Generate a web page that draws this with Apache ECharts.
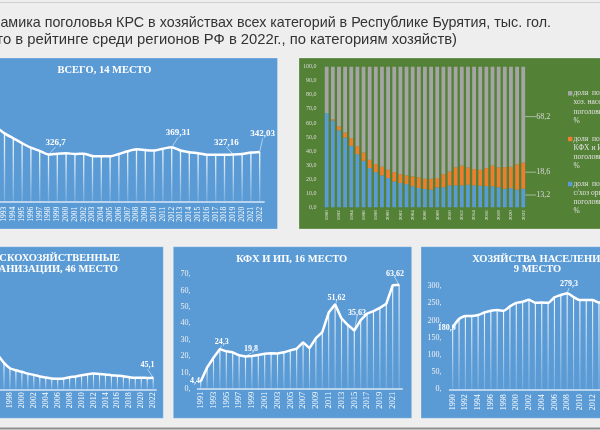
<!DOCTYPE html>
<html><head><meta charset="utf-8">
<script src="https://cdn.jsdelivr.net/npm/echarts@6/dist/echarts.min.js"></script>
<style>html,body{margin:0;padding:0;background:#eeeeee}#c{width:600px;height:430px}</style>
</head><body><div id="c"></div>
<script>
// ---------- data ----------
const yearsAll = ['1990','1991','1992','1993','1994','1995','1996','1997','1998','1999','2000','2001','2002','2003','2004','2005','2006','2007','2008','2009','2010','2011','2012','2013','2014','2015','2016','2017','2018','2019','2020','2021','2022'];
const yearsKfh = ['1991','1992','1993','1994','1995','1996','1997','1998','1999','2000','2001','2002','2003','2004','2005','2006','2007','2008','2009','2010','2011','2012','2013','2014','2015','2016','2017','2018','2019','2020','2021','2022'];

// all categories, thous. head
const totalHeads = [560,530,490,451,422,393,367,348,326.7,332,334,330,332,318,316,316,330,346,357,353,350,361,369.31,350,340,334,326,326,326,327.16,330,338,342.03];
// agricultural organisations
const agriOrgHeads = [410,370,300,235,190,152,132,103,82,74,68,61,56,50,46,42,41,42,47,50,55,59,61,60,58,55,53,51,47,45,45,44,45.1];
// peasant farms and individual entrepreneurs (from 1991)
const kfhHeads = [4.4,13,19,24.3,22.9,22.3,20.5,19.8,20,20.7,21.4,21.8,21.6,22.3,23.5,24.5,28.4,24.9,31,34.6,46.6,51.62,43,39,35.63,42,46,47.5,49.5,52,63.3,63.62];
// households
const householdHeads = [180,204,213,213,216,223,228,230,228,241,251,254,260,251,252,251,267,274,279.3,268,259,259,259,252,253,256,243,237,236,233,237,231,233.3];

// shares in total head, %
const shareAgri  = [67,61.7,54.8,49.6,43.7,37.8,33.1,27.9,25,22.7,20.8,18.4,17.3,16.5,14.9,13.7,13,12.5,14.2,14.2,15.6,15.6,15.6,16.1,15.6,15.4,15.1,14.9,14.2,13.2,13.7,12.5,13.2];
const shareKfh   = [0,0.9,2.9,3.6,5.5,5.7,5.9,5.9,5.7,6.1,5.9,6.6,6.3,6.2,7.1,7.6,7.3,7.8,6.6,9.4,9.9,12.8,14,12.3,11.6,11.3,12.8,14.7,14.2,15.4,15.1,18.2,18.6];
const shareHouse = [33,37.4,42.3,46.8,50.8,56.5,61,66.2,69.3,71.2,73.3,75,76.4,77.3,78,78.7,79.7,79.7,79.2,76.4,74.5,71.6,70.4,71.6,72.8,73.3,72.1,70.4,71.6,71.4,71.2,69.3,68.2];

const legendNames = ['доля  поголовья в\nхоз. населения в\nпоголовье,\n%', 'доля  поголовья в\nКФХ и ИП в общем\nпоголовье,\n%', 'доля  поголовья в\nс/хоз организациях\nпоголовье,\n%'];

// ---------- style ----------
const BLUE_BG = '#5b9bd5', GREEN_BG = '#538135';
const SERIF = '"Liberation Serif","Times New Roman",serif';
const SANS = '"Liberation Sans",Arial,sans-serif';
const dropGrad = {type:'linear',x:0,y:0,x2:0,y2:1,colorStops:[{offset:0,color:'rgba(255,255,255,0.95)'},{offset:1,color:'rgba(255,255,255,0.15)'}]};

function fmt(v){ return Number.isInteger(v) ? v + ',0' : String(v).replace('.', ','); }

// label marks: dataIndex -> [dx, dy]
const totalMarks = {8:[7,-2], 22:[6.5,-4.5], 29:[-7,-2], 32:[3,-8]};
const agriMarks = {32:[-5.7,-3]};
const kfhMarks = {0:[-5.7,8.4], 3:[1.8,2], 7:[5.5,2.3], 21:[1.5,3.4], 24:[2.8,-8.5], 31:[-4,-1.4]};
const hhMarks = {0:[-6,10.6], 18:[1.8,0.5]};

function withLabels(values, marks){
  return values.map((v,i)=> marks[i] ? {value:v, label:{show:true}} : v);
}
function lineSeries(idx, values, marks, fs, smooth){
  return {
    type:'line', xAxisIndex:idx, yAxisIndex:idx, data:withLabels(values, marks),
    smooth:smooth, symbol:'circle', symbolSize:1, showSymbol:true, z:4,
    lineStyle:{color:'#ffffff', width:2.5}, itemStyle:{color:'#ffffff'},
    label:{show:false, position:'top', distance:5, color:'#ffffff', fontFamily:SERIF, fontWeight:'bold', fontSize:fs,
      formatter:p=>fmt(p.value)},
    labelLayout:p=>{const m=marks[p.dataIndex]; return m?{dx:m[0],dy:m[1]}:{};},
    labelLine:{show:true, lineStyle:{color:'rgba(255,255,255,0.75)', width:0.7}},
    silent:true
  };
}
function dropSeries(idx, values, w){
  return {type:'bar', xAxisIndex:idx, yAxisIndex:idx, data:values, barWidth:w, z:3, silent:true,
    itemStyle:{color:dropGrad}};
}
function catAxis(idx, data, fs, margin, interval, color){
  return {gridIndex:idx, type:'category', data:data, boundaryGap:true,
    axisTick:{show:false}, axisLine:{show:true, lineStyle:{color:'rgba(255,255,255,0.75)', width:1.5}},
    axisLabel:{rotate:90, fontSize:fs, fontFamily:SERIF, color:color||'#ffffff', margin:margin, interval:interval}};
}

const panels = [
  {x:-2, y:58, w:279.5, h:171, c:BLUE_BG},
  {x:299, y:58, w:305, h:171, c:GREEN_BG},
  {x:-2, y:246.7, w:165.3, h:171.6, c:BLUE_BG},
  {x:173.3, y:246.7, w:238.4, h:171.6, c:BLUE_BG},
  {x:421, y:246.7, w:185, h:171.6, c:BLUE_BG}
];
const graphic = panels.map(p=>({type:'rect', z:-10, shape:{x:p.x,y:p.y,width:p.w,height:p.h}, style:{fill:p.c, stroke:'rgba(255,255,255,0.25)', lineWidth:1}}));
graphic.push({type:'line', z:-10, shape:{x1:0,y1:2.5,x2:600,y2:2.5}, style:{stroke:'#cfcfcf', lineWidth:1}});
graphic.push({type:'line', z:-10, shape:{x1:0,y1:428.5,x2:600,y2:428.5}, style:{stroke:'#8f8f8f', lineWidth:2}});
function txt(x,y,text,font,color,align){
  return {type:'text', z:10, x:x, y:y, style:{text:text, font:font, fill:color, align:align||'left', verticalAlign:'middle'}};
}
graphic.push(txt(551, 23, 'Динамика поголовья КРС в хозяйствах всех категорий в Республике Бурятия, тыс. гол.', '14.3px '+SANS, '#333333', 'right'));
graphic.push(txt(457, 40, '(место в рейтинге среди регионов РФ в 2022г., по категориям хозяйств)', '14.8px '+SANS, '#333333', 'right'));
const TF = 'bold 10.5px '+SERIF;
graphic.push(txt(104.5, 70, 'ВСЕГО, 14 МЕСТО', TF, '#ffffff', 'center'));
graphic.push(txt(120, 258.5, 'СЕЛЬСКОХОЗЯЙСТВЕННЫЕ', TF, '#ffffff', 'right'));
graphic.push(txt(118, 269.5, 'ОРГАНИЗАЦИИ, 46 МЕСТО', TF, '#ffffff', 'right'));
graphic.push(txt(291.7, 259, 'КФХ И ИП, 16 МЕСТО', TF, '#ffffff', 'center'));
graphic.push(txt(472.3, 259.3, 'ХОЗЯЙСТВА НАСЕЛЕНИЯ,', TF, '#ffffff', 'left'));
graphic.push(txt(537.5, 269.5, '9 МЕСТО', TF, '#ffffff', 'center'));
// legend of share chart
const legendColors = ['#a5a5a5', '#ed7d31', '#5b9bd5'];
const legendTops = [93.3, 139, 184];
legendNames.forEach((n,i)=>{
  graphic.push({type:'rect', z:10, shape:{x:568,y:legendTops[i]-2.2,width:4.4,height:4.4}, style:{fill:legendColors[i]}});
  graphic.push({type:'text', z:10, x:573.5, y:legendTops[i]-4.5, style:{text:n, font:'7.5px '+SERIF, fill:'#e2e2e2', lineHeight:9.1, align:'left', verticalAlign:'top'}});
});

const shareLabel = (dy)=>({
  label:{show:false, position:'right', distance:3, color:'#dadada', fontFamily:SERIF, fontSize:8, formatter:p=>fmt(p.value)},
  labelLayout:p=> p.dataIndex===32 ? {dx:8, dy:dy} : {},
  labelLine:{show:true, lineStyle:{color:'#d0d0d0', width:0.7}}
});
function lastLabeled(values){ return values.map((v,i)=> i===values.length-1 ? {value:v, label:{show:true}} : v); }

const option = {
  animation:false,
  backgroundColor:'#eeeeee',
  graphic:{elements:graphic},
  grid:[
    {left:-26.3, top:90.9, width:290.4, height:110.8, outerBoundsMode:'none', containLabel:false},
    {left:323.6, top:66.7, width:202.7, height:140.6, outerBoundsMode:'none', containLabel:false},
    {left:-40.8, top:260.8, width:197, height:128.5, outerBoundsMode:'none', containLabel:false},
    {left:197.5, top:274.3, width:204.8, height:114.5, outerBoundsMode:'none', containLabel:false},
    {left:449.5, top:286, width:209.9, height:103.3, outerBoundsMode:'none', containLabel:false}
  ],
  xAxis:[
    catAxis(0, yearsAll, 7.5, 5, 0),
    Object.assign(catAxis(1, yearsAll, 5, 3, 1, '#e6e6e6'), {axisLine:{show:false}}),
    catAxis(2, yearsAll, 8, 3, 1),
    catAxis(3, yearsKfh, 8.5, 3, 1),
    catAxis(4, yearsAll, 8, 5, 1)
  ],
  yAxis:[
    {gridIndex:0, type:'value', min:50, max:700, show:false},
    {gridIndex:1, type:'value', min:0, max:100, interval:10, axisLine:{show:false}, axisTick:{show:false}, splitLine:{show:false},
      axisLabel:{fontSize:6, fontFamily:SERIF, color:'#dcdcdc', margin:7, formatter:v=>v.toFixed(1).replace('.',',')}},
    {gridIndex:2, type:'value', min:0, max:500, show:false},
    {gridIndex:3, type:'value', min:0, max:70, interval:10, axisLine:{show:false}, axisTick:{show:false}, splitLine:{show:false},
      axisLabel:{fontSize:8, fontFamily:SERIF, color:'#f0f0f0', margin:7, formatter:v=>v+','}},
    {gridIndex:4, type:'value', min:0, max:300, interval:50, axisLine:{show:false}, axisTick:{show:false}, splitLine:{show:false},
      axisLabel:{fontSize:8, fontFamily:SERIF, color:'#f0f0f0', margin:8, formatter:v=>v+','}}
  ],
  series:[
    dropSeries(0, totalHeads, 1.3),
    lineSeries(0, totalHeads, totalMarks, 9, 0.25),
    Object.assign({type:'bar', name:'agri', xAxisIndex:1, yAxisIndex:1, stack:'s', barWidth:3.8, data:lastLabeled(shareAgri), itemStyle:{color:'#5b9bd5'}, silent:true}, shareLabel(-3)),
    Object.assign({type:'bar', name:'kfh', xAxisIndex:1, yAxisIndex:1, stack:'s', barWidth:3.8, data:lastLabeled(shareKfh), itemStyle:{color:'#ed7d31'}, silent:true}, shareLabel(-3.5)),
    Object.assign({type:'bar', name:'house', xAxisIndex:1, yAxisIndex:1, stack:'s', barWidth:3.8, data:lastLabeled(shareHouse), itemStyle:{color:'#a5a5a5'}, silent:true}, shareLabel(2)),
    dropSeries(2, agriOrgHeads, 1.1),
    lineSeries(2, agriOrgHeads, agriMarks, 8, 0.25),
    dropSeries(3, kfhHeads, 1.1),
    lineSeries(3, kfhHeads, kfhMarks, 8, 0),
    dropSeries(4, householdHeads, 1.1),
    lineSeries(4, householdHeads, hhMarks, 8, 0.2)
  ]
};
const chart = echarts.init(document.getElementById('c'), null, {renderer:'canvas'});
chart.setOption(option);
</script></body></html>
